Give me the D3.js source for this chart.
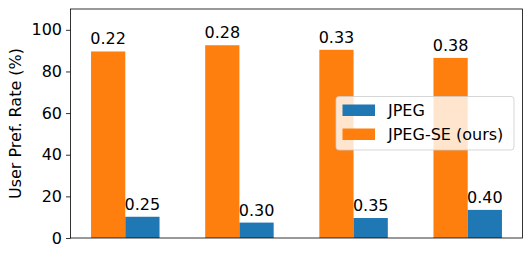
<!DOCTYPE html>
<html>
<head>
<meta charset="utf-8">
<script src="https://cdn.jsdelivr.net/npm/d3@7"></script>
<style>
  body { margin: 0; background: #fff; }
  text { font-family: "DejaVu Sans", sans-serif; }
</style>
</head>
<body>
<div id="chart-area"></div>
<script>
// data
var groups = [0, 1, 2, 3];
var jpegValues = [10.2, 7.4, 9.6, 13.5];
var jpegSeValues = [89.6, 92.6, 90.4, 86.5];
var jpegLabels = ["0.25", "0.30", "0.35", "0.40"];
var jpegSeLabels = ["0.22", "0.28", "0.33", "0.38"];
var yTicks = [0, 20, 40, 60, 80, 100];
var seriesNames = ["JPEG", "JPEG-SE (ours)"];
var colors = ["#1f77b4", "#ff7f0e"];

var W = 532, H = 257;
var margin = { left: 70.5, right: 9.5, top: 9, bottom: 19 },
    width = W - margin.left - margin.right,
    height = H - margin.top - margin.bottom;

var barW = 0.3;

var svg = d3.select("#chart-area")
    .append("svg")
    .attr("width", W)
    .attr("height", H);
var g = svg.append("g")
    .attr("transform", "translate(" + margin.left + ", " + margin.top + ")");

// Scales
var x = d3.scaleLinear().domain([-0.48, 3.48]).range([0, width]);
var y = d3.scaleLinear().domain([0, 110]).range([height, 0]);

// Bars - orange on the left, blue on the right
var se = groups.map(function(d, i) { return { x: d - barW / 2, v: jpegSeValues[i], l: jpegSeLabels[i] }; });
var jp = groups.map(function(d, i) { return { x: d + barW / 2, v: jpegValues[i], l: jpegLabels[i] }; });

[[se, colors[1]], [jp, colors[0]]].forEach(function(s) {
    g.selectAll(null)
        .data(s[0])
        .enter().append("rect")
        .attr("x", function(d) { return x(d.x - barW / 2); })
        .attr("width", function(d) { return x(d.x + barW / 2) - x(d.x - barW / 2); })
        .attr("y", function(d) { return y(d.v); })
        .attr("height", function(d) { return y(0) - y(d.v); })
        .attr("fill", s[1]);

    g.selectAll(null)
        .data(s[0])
        .enter().append("text")
        .attr("x", function(d) { return x(d.x); })
        .attr("y", function(d) { return y(d.v) - 7; })
        .attr("text-anchor", "middle")
        .attr("font-size", "16px")
        .attr("fill", "#000")
        .text(function(d) { return d.l; });
});

// Y-axis
var yAxis = g.append("g")
    .call(d3.axisLeft(y).tickValues(yTicks).tickSize(4.5).tickPadding(4));
yAxis.select(".domain").remove();
yAxis.selectAll("text")
    .attr("font-size", "16px")
    .attr("font-family", "DejaVu Sans, sans-serif")
    .attr("fill", "#000");
yAxis.selectAll("line").attr("stroke", "#000").attr("stroke-width", 0.8);

// frame
g.append("rect")
    .attr("x", 0).attr("y", 0)
    .attr("width", width).attr("height", height)
    .attr("fill", "none")
    .attr("stroke", "#000")
    .attr("stroke-width", 0.8);

// Y label
svg.append("text")
    .attr("transform", "translate(21," + (margin.top + height / 2) + ") rotate(-90)")
    .attr("text-anchor", "middle")
    .attr("font-size", "16px")
    .text("User Pref. Rate (%)");

// Legend
var legend = svg.append("g").attr("transform", "translate(336,96.5)");
legend.append("rect")
    .attr("width", 178).attr("height", 53.5)
    .attr("rx", 3).attr("ry", 3)
    .attr("fill", "rgba(255,255,255,0.8)")
    .attr("stroke", "rgba(204,204,204,0.8)")
    .attr("stroke-width", 1);
seriesNames.forEach(function(name, i) {
    legend.append("rect")
        .attr("x", 6.5).attr("y", 8 + i * 24)
        .attr("width", 32.5).attr("height", 11.5)
        .attr("fill", colors[i]);
    legend.append("text")
        .attr("x", 52).attr("y", 19.5 + i * 24)
        .attr("font-size", "16px")
        .text(name);
});
</script>
</body>
</html>
